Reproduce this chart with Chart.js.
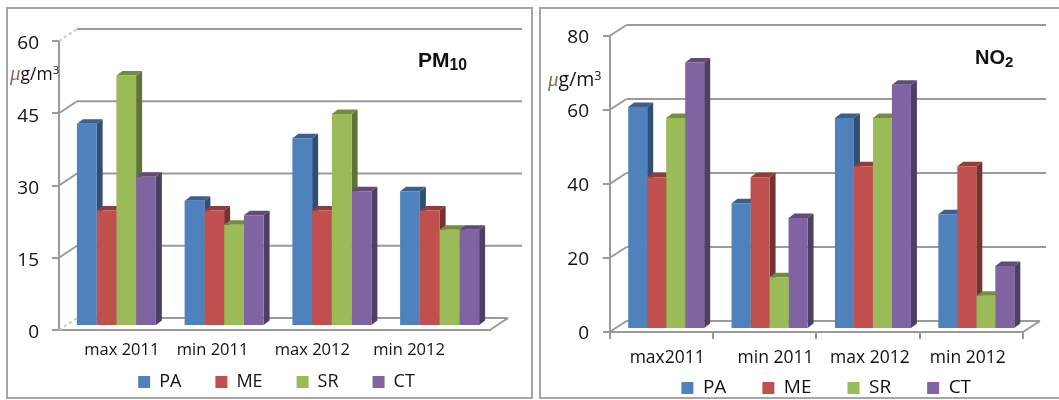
<!DOCTYPE html>
<html><head><meta charset="utf-8">
<script src="https://cdn.jsdelivr.net/npm/chart.js@4"></script>
<style>
html,body{margin:0;padding:0;background:#fff;overflow:hidden;width:1059px;height:400px}
.frame{position:absolute;border:2px solid #a6a6a6;box-sizing:border-box;background:#fff}
canvas{position:absolute;top:0}
.t{position:absolute;white-space:nowrap;color:#111}
.title{font:bold 21px "Liberation Sans",sans-serif}
.unit{font:17.5px "Open Sans",sans-serif}
.unit i{font:italic 21px "Liberation Serif",serif;color:#8a6d55}
sub{font-size:.75em;line-height:0;vertical-align:-0.2em}
sup{font-size:.65em;line-height:0;vertical-align:.5em}
</style></head><body>
<div class="frame" style="left:6px;top:7px;width:527px;height:392px"></div>
<div class="frame" style="left:539px;top:7px;width:540px;height:392px"></div>
<div style="position:absolute;left:0;top:0;width:535px;height:400px"><canvas id="c1"></canvas></div>
<div style="position:absolute;left:535px;top:0;width:524px;height:400px"><canvas id="c2"></canvas></div>
<div class="t title" style="left:418px;top:48px">PM<sub>10</sub></div>
<div class="t title" style="left:975px;top:46px;font-size:20px">NO<sub>2</sub></div>
<div class="t unit" style="left:10px;top:61px"><i>μ</i>g/m<sup>3</sup></div>
<div class="t unit" style="left:548px;top:65px;font-size:19.5px"><i>μ</i>g/m<sup>3</sup></div>
<script>
const seriesNames = ['PA','ME','SR','CT'];
const seriesColors = ['#4F81BD','#C0504D','#9BBB59','#8064A2'];
const pmLabels = ['max 2011','min 2011','max 2012','min 2012'];
const pmPA = [42,26,39,28];
const pmME = [24,24,24,24];
const pmSR = [52,21,44,20];
const pmCT = [31,23,28,20];
const pmTicks = [0,15,30,45,60];
const no2Labels = ['max2011','min 2011','max 2012','min 2012'];
const no2PA = [60,34,57,31];
const no2ME = [41,41,44,44];
const no2SR = [57,14,57,9];
const no2CT = [72,30,66,17];
const no2Ticks = [0,20,40,60,80];

function darken(hex,f){
  const n=parseInt(hex.slice(1),16);
  return `rgb(${(n>>16&255)*f|0},${(n>>8&255)*f|0},${(n&255)*f|0})`;
}
const AX='#9a9a9a';
function make(id,w,g){
  const cv=document.getElementById(id);
  const depth3d={
    id:'depth3d',
    beforeLayout(ch){
      if(ch.legend.__w)return;
      ch.legend.__w=true;
      const f=ch.legend.fit;
      ch.legend.fit=function(){f.call(this);this.height=g.legH;};
    },
    afterLayout(ch){
      ch.scales.x.getLabelItems().forEach((it,i)=>{it.options.translation[0]+=g.labelShift[i];});
      ch.scales.y.getLabelItems().forEach(it=>{it.options.translation[1]+=g.yLabelDy;});
      const L=ch.legend;
      L.left+=g.legendShift; L.right+=g.legendShift;
      L.top=g.legY-g.legPad-g.legFont/2;
    },
    beforeDatasetsDraw(ch){
      const c=ch.ctx,y=ch.scales.y,a=ch.chartArea;
      c.save();
      c.lineWidth=2;
      c.strokeStyle=AX;
      g.ticks.forEach(v=>{
        const p=y.getPixelForValue(v);
        const faint=g.dashed.includes(v);
        c.setLineDash(faint?[3,3]:[]);
        c.strokeStyle=faint?'#c8c8c8':AX;
        c.beginPath();c.moveTo(a.left,p);c.lineTo(a.left+g.wallX,p-g.wallY);c.stroke();
        c.setLineDash([]);
        c.strokeStyle=AX;
        c.beginPath();c.moveTo(a.left+g.wallX,p-g.wallY);
        c.lineTo(v===0?a.right+g.wallX:g.gridEnd,p-g.wallY);c.stroke();
      });
      const p0=y.getPixelForValue(0);
      c.beginPath();c.moveTo(a.right,p0);c.lineTo(a.right+g.wallX,p0-g.wallY);c.stroke();
      ch.getDatasetMeta(0).data.forEach((_,i)=>{
        ch.data.datasets.forEach((ds,k)=>{
          const b=ch.getDatasetMeta(k).data[i];
          const l=b.x-b.width/2+g.barX,r=b.x+b.width/2+g.barX,t=b.y-g.barY,bt=b.base-g.barY;
          c.fillStyle=darken(ds.backgroundColor,.62);
          c.beginPath();c.moveTo(r,t);c.lineTo(r+g.dx,t-g.dy);c.lineTo(r+g.dx,bt-g.dy);c.lineTo(r,bt);c.closePath();c.fill();
          c.fillStyle=darken(ds.backgroundColor,.75);
          c.beginPath();c.moveTo(l,t);c.lineTo(l+g.dx,t-g.dy);c.lineTo(r+g.dx,t-g.dy);c.lineTo(r,t);c.closePath();c.fill();
        });
      });
      c.restore();
      c.save();
      c.translate(g.barX,-g.barY);
    },
    afterDatasetsDraw(ch){ch.ctx.restore();}
  };
  const sets=[g.a,g.b,g.c,g.d].map((d,i)=>({label:seriesNames[i],data:d,backgroundColor:seriesColors[i],categoryPercentage:g.cat,barPercentage:1}));
  return new Chart(cv,{
    type:'bar',
    data:{labels:g.labels,datasets:sets},
    plugins:[depth3d],
    options:{
      responsive:false,animation:false,devicePixelRatio:1,
      layout:{padding:{top:g.top,right:w-g.right,left:0,bottom:0}},
      plugins:{
        tooltip:{enabled:false},
        legend:{position:'bottom',fullSize:false,
          labels:{boxWidth:12,boxHeight:12,padding:g.legPad,color:'#111',font:{family:'Open Sans',size:g.legFont}}}
      },
      scales:{
        y:{min:0,max:g.max,afterFit(s){s.width=g.left;},
          afterBuildTicks(s){s.ticks=g.ticks.map(v=>({value:v}));},
          border:{color:AX,width:2},
          grid:{drawOnChartArea:false,color:AX,lineWidth:2,tickLength:g.yTick},
          ticks:{padding:g.yPad,color:'#111',font:{family:'Open Sans',size:g.yFont}}},
        x:{afterFit(s){s.height=g.xH;},
          border:{color:AX,width:2},
          grid:{drawOnChartArea:false,drawTicks:g.xTick>0,color:AX,lineWidth:2,tickLength:g.xTick},
          ticks:{padding:g.xPad,maxRotation:0,autoSkip:false,color:'#111',font:{family:'Open Sans',size:g.xFont}}}
      }
    }
  });
}
function size(id,w){const c=document.getElementById(id);c.width=w;c.height=400;c.style.width=w+'px';c.style.height='400px';}
size('c1',535);size('c2',524);
make('c1',535,{a:pmPA,b:pmME,c:pmSR,d:pmCT,labels:pmLabels,ticks:pmTicks,max:60,
  left:59,right:490,top:41,xH:49,legH:21,legY:382,legPad:34,legFont:18,legendShift:2,
  labelShift:[9,-8,-16,-27],dashed:[0,60],wallX:18,wallY:12,gridEnd:522,yLabelDy:3,
  barX:3.5,barY:4,dx:6,dy:4.5,cat:.733,yTick:7,yPad:13,xTick:0,xPad:10,yFont:19,xFont:16.5});
make('c2',524,{a:no2PA,b:no2ME,c:no2SR,d:no2CT,labels:no2Labels,ticks:no2Ticks,max:80,
  left:74.5,right:488,top:36,xH:47,legH:21,legY:388,legPad:36,legFont:19,legendShift:10,
  labelShift:[6,11,2,-3.5],dashed:[],wallX:17,wallY:11,gridEnd:511,yLabelDy:2,
  barX:5,barY:3,dx:6,dy:4.5,cat:.735,yTick:6.5,yPad:14,xTick:7,xPad:9,yFont:19,xFont:17.5});
</script>
</body></html>
